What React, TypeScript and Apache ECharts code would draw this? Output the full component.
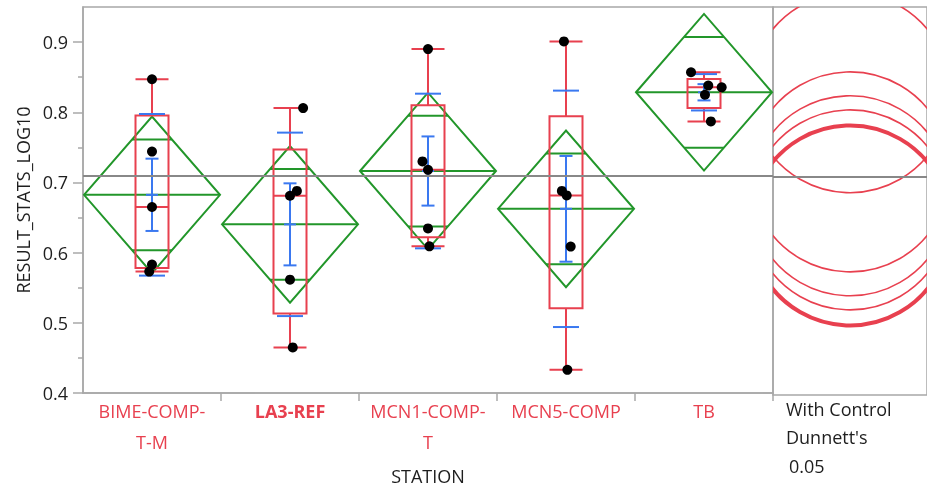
import React, { useEffect, useRef } from 'react';
import * as echarts from 'echarts';

// ---------- data ----------
const categories = ['BIME-COMP-T-M', 'LA3-REF', 'MCN1-COMP-T', 'MCN5-COMP', 'TB'];
const controlGroup = 'LA3-REF';

const bimeValues = [0.847, 0.744, 0.665, 0.583, 0.573];
const la3Values = [0.806, 0.688, 0.681, 0.5615, 0.465];
const mcn1Values = [0.89, 0.73, 0.718, 0.6345, 0.609];
const mcn5Values = [0.901, 0.688, 0.6815, 0.6086, 0.433];
const tbValues = [0.857, 0.838, 0.8355, 0.825, 0.787];

// horizontal jitter of the points, as a fraction of the category band
const bimeJitter = [0, 0, 0, 0, -0.02];
const la3Jitter = [0.095, 0.05, 0, 0, 0.02];
const mcn1Jitter = [0, -0.04, 0, 0, 0.01];
const mcn5Jitter = [-0.015, -0.03, 0.005, 0.034, 0.01];
const tbJitter = [-0.094, 0.031, 0.128, 0.007, 0.05];

const yTicks = [0.4, 0.5, 0.6, 0.7, 0.8, 0.9];
const yMinorTicks = [0.45, 0.55, 0.65, 0.75, 0.85];
const yMin = 0.4;
const yMax = 0.95;

const tCrit = 2.086; // t(0.975, df=20)
const dunnettQ = 2.65; // Dunnett's |d| for 4 comparisons, df=20, alpha 0.05
const alphaText = '0.05';

const groupValues = [bimeValues, la3Values, mcn1Values, mcn5Values, tbValues];
const groupJitter = [bimeJitter, la3Jitter, mcn1Jitter, mcn5Jitter, tbJitter];

// ---------- styles ----------
const RED = '#E8404F';
const GREEN = '#22962A';
const BLUE = '#3A78F0';
const FRAME = '#A8A8A8';
const MEANLINE = '#888888';
const TEXT = '#1E1E1E';
const FONT = "'Open Sans', 'Noto Sans', sans-serif";
const FS = 18;

// ---------- statistics ----------
function quantile(sorted: number[], p: number) {
  const n = sorted.length;
  const pos = (n + 1) * p;
  const lo = Math.floor(pos);
  const frac = pos - lo;
  if (lo < 1) return sorted[0];
  if (lo >= n) return sorted[n - 1];
  return sorted[lo - 1] + frac * (sorted[lo] - sorted[lo - 1]);
}
const mean = (a: number[]) => a.reduce((s, v) => s + v, 0) / a.length;

const stats = groupValues.map((vals) => {
  const s = [...vals].sort((a, b) => a - b);
  const m = mean(vals);
  const ss = vals.reduce((acc, v) => acc + (v - m) * (v - m), 0);
  const sd = Math.sqrt(ss / (vals.length - 1));
  return {
    n: vals.length,
    mean: m,
    ss,
    sd,
    se: sd / Math.sqrt(vals.length),
    box: [s[0], quantile(s, 0.25), quantile(s, 0.5), quantile(s, 0.75), s[s.length - 1]],
  };
});
const totalN = stats.reduce((a, s) => a + s.n, 0);
const pooledSd = Math.sqrt(stats.reduce((a, s) => a + s.ss, 0) / (totalN - stats.length));
const grandMean = mean(groupValues.flat());

export default function App() {
  const ref = useRef<HTMLDivElement>(null);

  useEffect(() => {
    if (!ref.current) return;
    const chart = echarts.init(ref.current, undefined, { renderer: 'svg' });

    const meanLine = {
      silent: true,
      symbol: ['none', 'none'],
      label: { show: false },
      lineStyle: { color: MEANLINE, width: 2, type: 'solid' },
      data: [{ yAxis: grandMean }],
    };

    const option: any = {
      animation: false,
      textStyle: { fontFamily: FONT },
      grid: [
        { left: 83, right: 154, top: 7, bottom: 95, show: true, borderColor: FRAME, borderWidth: 1.5, containLabel: false },
        { left: 773, width: 160, top: 7, bottom: 95, show: true, borderColor: FRAME, borderWidth: 1.5, containLabel: false },
      ],
      xAxis: [
        {
          type: 'category',
          gridIndex: 0,
          data: categories,
          boundaryGap: true,
          axisLine: { lineStyle: { color: FRAME, width: 1.5 } },
          axisTick: {
            show: true,
            length: 8,
            interval: (idx: number) => idx !== 0,
            lineStyle: { color: FRAME, width: 1.5 },
          },
          axisLabel: {
            interval: 0,
            margin: 2,
            color: RED,
            fontSize: FS,
            fontFamily: FONT,
            lineHeight: 31,
            formatter: (v: string) =>
              v === controlGroup ? `{b|${v}}` : v.replace(/COMP-(?=.)/, 'COMP-\n'),
            rich: {
              b: { fontWeight: 'bold', color: RED, fontSize: FS, fontFamily: FONT, lineHeight: 31 },
            },
          },
          name: 'STATION',
          nameLocation: 'middle',
          nameGap: 74,
          nameTextStyle: { color: TEXT, fontSize: FS, fontFamily: FONT },
        },
        { type: 'value', gridIndex: 1, min: 0, max: 1, show: false },
      ],
      yAxis: [
        {
          type: 'value',
          gridIndex: 0,
          min: yMin,
          max: yMax,
          splitLine: { show: false },
          axisLine: { show: true, lineStyle: { color: FRAME, width: 1.5 } },
          axisTick: { show: true, length: 10, customValues: yTicks, lineStyle: { color: FRAME, width: 1.5 } },
          axisLabel: {
            customValues: yTicks,
            formatter: (v: number) => v.toFixed(1),
            margin: 15,
            color: TEXT,
            fontSize: FS,
            fontFamily: FONT,
          },
          name: 'RESULT_STATS_LOG10',
          nameLocation: 'middle',
          nameGap: 50,
          nameTextStyle: { color: TEXT, fontSize: FS, fontFamily: FONT },
        },
        {
          type: 'value',
          gridIndex: 0,
          position: 'left',
          min: yMin,
          max: yMax,
          splitLine: { show: false },
          axisLine: { show: false },
          axisLabel: { show: false },
          axisTick: { show: true, length: 5, customValues: yMinorTicks, lineStyle: { color: FRAME, width: 1.5 } },
        },
        { type: 'value', gridIndex: 1, min: yMin, max: yMax, show: false },
      ],
      series: [
        // means diamonds
        {
          type: 'custom',
          xAxisIndex: 0,
          yAxisIndex: 0,
          z: 2,
          silent: true,
          data: stats.map((s, i) => [i, s.mean]),
          encode: { x: 0, y: 1 },
          markLine: meanLine,
          renderItem: (params: any, api: any) => {
            const i = api.value(0);
            const s = stats[i];
            const halfH = (tCrit * pooledSd) / Math.sqrt(s.n);
            const ov = halfH / Math.SQRT2;
            const c = api.coord([i, s.mean]);
            const bw = api.size([1, 0])[0];
            const hw = bw / 2 - 1;
            const top = api.coord([i, s.mean + halfH])[1];
            const bot = api.coord([i, s.mean - halfH])[1];
            const ovTop = api.coord([i, s.mean + ov])[1];
            const ovBot = api.coord([i, s.mean - ov])[1];
            const ovHw = hw * (1 - 1 / Math.SQRT2);
            const st = { stroke: GREEN, lineWidth: 2, fill: 'none' };
            return {
              type: 'group',
              children: [
                { type: 'polygon', shape: { points: [[c[0] - hw, c[1]], [c[0], top], [c[0] + hw, c[1]], [c[0], bot]] }, style: st },
                { type: 'line', shape: { x1: c[0] - hw, y1: c[1], x2: c[0] + hw, y2: c[1] }, style: st },
                { type: 'line', shape: { x1: c[0] - ovHw, y1: ovTop, x2: c[0] + ovHw, y2: ovTop }, style: st },
                { type: 'line', shape: { x1: c[0] - ovHw, y1: ovBot, x2: c[0] + ovHw, y2: ovBot }, style: st },
              ],
            };
          },
        },
        // box plots
        {
          type: 'boxplot',
          xAxisIndex: 0,
          yAxisIndex: 0,
          z: 3,
          silent: true,
          boxWidth: [33, 33],
          itemStyle: { color: 'rgba(0,0,0,0)', borderColor: RED, borderWidth: 2 },
          data: stats.map((s) => s.box),
        },
        // std dev lines and mean error bars
        {
          type: 'custom',
          xAxisIndex: 0,
          yAxisIndex: 0,
          z: 4,
          silent: true,
          data: stats.map((s, i) => [i, s.mean]),
          encode: { x: 0, y: 1 },
          renderItem: (params: any, api: any) => {
            const i = api.value(0);
            const s = stats[i];
            const x = api.coord([i, s.mean])[0];
            const y = (v: number) => api.coord([i, v])[1];
            const st = { stroke: BLUE, lineWidth: 2, fill: 'none' };
            const h = (v: number, w: number) => ({ type: 'line', shape: { x1: x - w, y1: y(v), x2: x + w, y2: y(v) }, style: st });
            return {
              type: 'group',
              children: [
                h(s.mean + s.sd, 13),
                h(s.mean - s.sd, 13),
                { type: 'line', shape: { x1: x, y1: y(s.mean + s.se), x2: x, y2: y(s.mean - s.se) }, style: st },
                h(s.mean + s.se, 6.5),
                h(s.mean - s.se, 6.5),
                h(s.mean, 6),
              ],
            };
          },
        },
        // points
        {
          type: 'custom',
          xAxisIndex: 0,
          yAxisIndex: 0,
          z: 5,
          silent: true,
          data: groupValues.flatMap((vals, gi) => vals.map((v, k) => [gi, v, groupJitter[gi][k]])),
          encode: { x: 0, y: 1 },
          renderItem: (params: any, api: any) => {
            const p = api.coord([api.value(0), api.value(1)]);
            const bw = api.size([1, 0])[0];
            return { type: 'circle', shape: { cx: p[0] + api.value(2) * bw, cy: p[1], r: 5 }, style: { fill: '#000' } };
          },
        },
        // Dunnett's comparison circles
        {
          type: 'custom',
          xAxisIndex: 1,
          yAxisIndex: 2,
          z: 3,
          silent: true,
          clip: true,
          data: stats.map((s, i) => [0.5, s.mean, categories[i] === controlGroup ? 1 : 0]),
          encode: { x: 0, y: 1 },
          markLine: meanLine,
          renderItem: (params: any, api: any) => {
            const c = api.coord([api.value(0), api.value(1)]);
            const s = stats[params.dataIndex];
            const r = api.size([0, (dunnettQ * pooledSd) / Math.sqrt(s.n)])[1];
            const isCtrl = api.value(2) === 1;
            return {
              type: 'circle',
              shape: { cx: c[0], cy: c[1], r },
              style: { fill: 'none', stroke: RED, lineWidth: isCtrl ? 4 : 1.6 },
            };
          },
        },
      ],
      graphic: [
        { type: 'text', left: 786, top: 400, style: { text: 'With Control', fill: TEXT, fontSize: FS, fontFamily: FONT } },
        { type: 'text', left: 786, top: 428, style: { text: "Dunnett's", fill: TEXT, fontSize: FS, fontFamily: FONT } },
        { type: 'text', left: 789, top: 457, style: { text: alphaText, fill: TEXT, fontSize: FS, fontFamily: FONT } },
      ],
    };

    chart.setOption(option);
    return () => chart.dispose();
  }, []);

  return <div ref={ref} style={{ position: 'fixed', left: 0, top: 0, width: 927, height: 490 }} />;
}
